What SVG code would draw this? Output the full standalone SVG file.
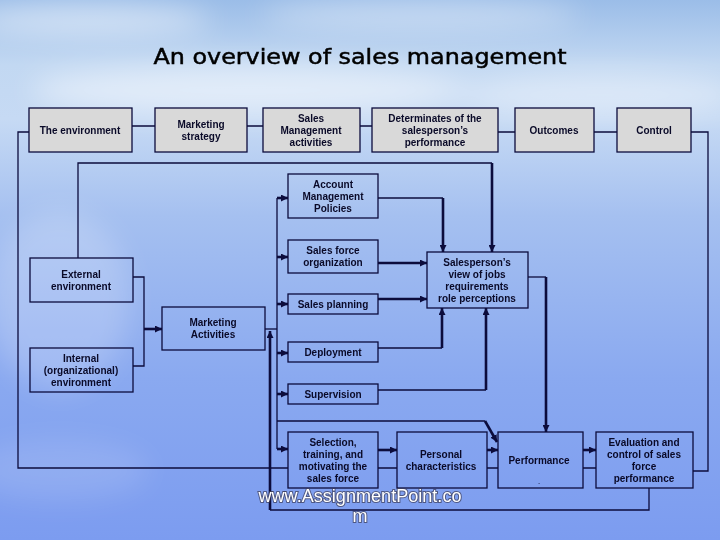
<svg xmlns="http://www.w3.org/2000/svg" width="720" height="540" viewBox="0 0 720 540">
<defs>
<linearGradient id="bg" x1="0" y1="0" x2="0" y2="1">
<stop offset="0" stop-color="#9bbde8"/>
<stop offset="0.12" stop-color="#c2d8f2"/>
<stop offset="0.22" stop-color="#c6daf4"/>
<stop offset="0.4" stop-color="#a5c0f0"/>
<stop offset="0.7" stop-color="#8aa9f0"/>
<stop offset="1" stop-color="#7c9cf0"/>
</linearGradient>
<filter id="blur" x="-50%" y="-50%" width="200%" height="200%"><feGaussianBlur stdDeviation="14"/></filter>
<marker id="ah" viewBox="0 0 8 8" refX="8" refY="4" markerWidth="7" markerHeight="7" markerUnits="userSpaceOnUse" orient="auto">
<path d="M0,0 L8,4 L0,8 z" fill="#0c0c3c"/>
</marker>
<style>
.top rect{fill:#d9d9d9;stroke:#0c0c3c;stroke-width:1.3}
.mid rect{fill:none;stroke:#0c0c3c;stroke-width:1.3}
text{font-family:"Liberation Sans",Arial,sans-serif;font-size:10px;font-weight:bold;fill:#0a0a28;text-anchor:middle}
.thin{fill:none;stroke:#0c0c3c;stroke-width:1.3}
.thick{fill:none;stroke:#0c0c3c;stroke-width:2.6}
.arr{marker-end:url(#ah)}
.title{font-family:"DejaVu Sans",Verdana,sans-serif;font-size:22px;font-weight:normal;fill:#000;stroke:#000;stroke-width:0.5}
.wm{font-family:"Liberation Sans",Arial,sans-serif;font-size:18px;font-weight:normal;fill:#fff}
.wms{font-family:"Liberation Sans",Arial,sans-serif;font-size:18px;font-weight:normal;fill:none;stroke:#3a3a55;stroke-width:2;stroke-opacity:0.7}
</style>
</defs>
<rect width="720" height="540" fill="url(#bg)"/>
<g filter="url(#blur)" fill="#ffffff">
<ellipse cx="90" cy="20" rx="120" ry="15" opacity="0.5"/>
<ellipse cx="420" cy="15" rx="160" ry="14" opacity="0.4"/>
<ellipse cx="250" cy="90" rx="220" ry="25" opacity="0.5"/>
<ellipse cx="600" cy="95" rx="140" ry="22" opacity="0.4"/>
<ellipse cx="60" cy="300" rx="70" ry="90" opacity="0.2"/>
<ellipse cx="60" cy="470" rx="90" ry="30" opacity="0.12"/>
</g>
<text class="title" x="360" y="64" textLength="413" lengthAdjust="spacingAndGlyphs">An overview of sales management</text>

<g id="connectors">
<path class="thin" d="M132,126 H155 M247,126 H263 M360,126 H372 M498,132 H515 M594,132 H617"/>
<path class="thin" d="M691,132 H708 V471 H693"/>
<path class="thin" d="M29,132 H18 V468 H288"/>
<path class="thin" d="M378,468 H397 M487,468 H498 M583,468 H596"/>
<path class="thin" d="M649,488 V510 H270"/>
<path class="thick arr" d="M270,510 V331"/>
<path class="thin" d="M265,329 H277"/>
<path class="thin" d="M277,198 V449"/>
<path class="thick arr" d="M277,198 H288"/>
<path class="thick arr" d="M277,257 H288"/>
<path class="thick arr" d="M277,304 H288"/>
<path class="thick arr" d="M277,353 H288"/>
<path class="thick arr" d="M277,394 H288"/>
<path class="thick arr" d="M277,449 H288"/>
<path class="thin" d="M277,421 H485"/>
<path class="thick arr" d="M485,421 L497,442"/>
<path class="thin" d="M133,277 H144 V366 H133"/>
<path class="thick arr" d="M144,329 H162"/>
<path class="thin" d="M78,258 V163 H492"/>
<path class="thick arr" d="M492,163 V252"/>
<path class="thin" d="M378,198 H443"/>
<path class="thick arr" d="M443,198 V252"/>
<path class="thick arr" d="M378,263 H427"/>
<path class="thick arr" d="M378,299 H427"/>
<path class="thin" d="M378,348 H442"/>
<path class="thick arr" d="M442,348 V308"/>
<path class="thin" d="M378,390 H486"/>
<path class="thick arr" d="M486,390 V308"/>
<path class="thin" d="M528,277 H546"/>
<path class="thick arr" d="M546,277 V432"/>
<path class="thick arr" d="M378,450 H397"/>
<path class="thick arr" d="M487,450 H498"/>
<path class="thick arr" d="M583,450 H596"/>
</g>

<g id="environment" class="top"><rect x="29" y="108" width="103" height="44"/><text x="80" y="134">The environment</text></g>
<g id="marketing-strategy" class="top"><rect x="155" y="108" width="92" height="44"/><text x="201" y="128">Marketing</text><text x="201" y="140">strategy</text></g>
<g id="sales-management" class="top"><rect x="263" y="108" width="97" height="44"/><text x="311" y="122">Sales</text><text x="311" y="134">Management</text><text x="311" y="146">activities</text></g>
<g id="determinates" class="top"><rect x="372" y="108" width="126" height="44"/><text x="435" y="122">Determinates of the</text><text x="435" y="134">salesperson’s</text><text x="435" y="146">performance</text></g>
<g id="outcomes" class="top"><rect x="515" y="108" width="79" height="44"/><text x="554" y="134">Outcomes</text></g>
<g id="control" class="top"><rect x="617" y="108" width="74" height="44"/><text x="654" y="134">Control</text></g>

<g id="account-management" class="mid"><rect x="288" y="174" width="90" height="44"/><text x="333" y="188">Account</text><text x="333" y="200">Management</text><text x="333" y="212">Policies</text></g>
<g id="sales-force-organization" class="mid"><rect x="288" y="240" width="90" height="33"/><text x="333" y="254">Sales force</text><text x="333" y="266">organization</text></g>
<g id="sales-planning" class="mid"><rect x="288" y="294" width="90" height="20"/><text x="333" y="308">Sales planning</text></g>
<g id="external-environment" class="mid"><rect x="30" y="258" width="103" height="44"/><text x="81" y="278">External</text><text x="81" y="290">environment</text></g>
<g id="marketing-activities" class="mid"><rect x="162" y="307" width="103" height="43"/><text x="213" y="326">Marketing</text><text x="213" y="338">Activities</text></g>
<g id="internal-environment" class="mid"><rect x="30" y="348" width="103" height="44"/><text x="81" y="362">Internal</text><text x="81" y="374">(organizational)</text><text x="81" y="386">environment</text></g>
<g id="salesperson-view" class="mid"><rect x="427" y="252" width="101" height="56"/><text x="477" y="266">Salesperson’s</text><text x="477" y="278">view of jobs</text><text x="477" y="290">requirements</text><text x="477" y="302">role perceptions</text></g>
<g id="deployment" class="mid"><rect x="288" y="342" width="90" height="20"/><text x="333" y="356">Deployment</text></g>
<g id="supervision" class="mid"><rect x="288" y="384" width="90" height="20"/><text x="333" y="398">Supervision</text></g>
<g id="selection" class="mid"><rect x="288" y="432" width="90" height="56"/><text x="333" y="446">Selection,</text><text x="333" y="458">training, and</text><text x="333" y="470">motivating the</text><text x="333" y="482">sales force</text></g>
<g id="personal-characteristics" class="mid"><rect x="397" y="432" width="90" height="56"/><text x="441" y="458">Personal</text><text x="441" y="470">characteristics</text></g>
<g id="performance" class="mid"><rect x="498" y="432" width="85" height="56"/><text x="539" y="464">Performance</text><text x="539" y="484" style="font-size:6px">.</text></g>
<g id="evaluation" class="mid"><rect x="596" y="432" width="97" height="56"/><text x="644" y="446">Evaluation and</text><text x="644" y="458">control of sales</text><text x="644" y="470">force</text><text x="644" y="482">performance</text></g>

<text class="wms" x="360" y="502" textLength="203" lengthAdjust="spacingAndGlyphs">www.AssignmentPoint.co</text>
<text class="wm" x="360" y="502" textLength="203" lengthAdjust="spacingAndGlyphs">www.AssignmentPoint.co</text>
<text class="wms" x="360" y="522">m</text>
<text class="wm" x="360" y="522">m</text>
</svg>
